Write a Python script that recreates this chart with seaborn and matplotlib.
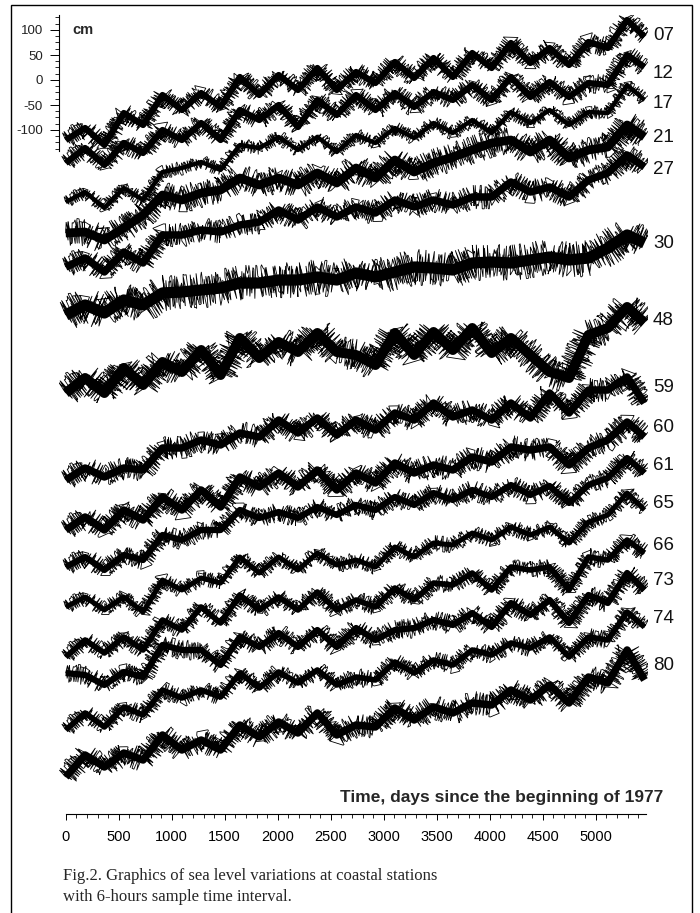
import matplotlib
matplotlib.use("Agg")
import matplotlib.pyplot as plt
import seaborn as sns
import pandas as pd
from matplotlib.patches import Rectangle

# ---------------- data (sea level, cm on the chart's stacked scale) ----------------
days = [0, 183, 365, 548, 730, 913, 1096, 1278, 1461, 1643, 1826, 2009, 2191, 2374, 2557,
        2739, 2922, 3105, 3287, 3470, 3652, 3835, 4018, 4200, 4383, 4565, 4748, 4931, 5114,
        5296, 5460]

st07 = [-120, -96, -130, -66, -90, -30, -60, -26, -54, 6, -30, 10, -20, 24, -20, 16, -6, 36,
        4, 44, 6, 54, 24, 74, 34, 64, 30, 76, 64, 120, 86]
st12 = [-166, -136, -170, -126, -146, -100, -120, -86, -120, -60, -80, -50, -94, -40, -70, -30,
        -60, -26, -54, -24, -40, -10, -40, 6, -34, -4, -34, -6, -10, 50, 26]
st17 = [-244, -224, -256, -216, -240, -184, -176, -164, -180, -130, -136, -114, -140, -114,
        -144, -110, -126, -96, -116, -86, -106, -80, -106, -64, -86, -60, -90, -64, -66, -10, -40]
st21 = [-306, -304, -320, -296, -270, -230, -240, -226, -220, -196, -210, -196, -210, -186,
        -206, -176, -196, -160, -184, -166, -154, -140, -126, -120, -144, -120, -156, -140,
        -134, -90, -114]
st27 = [-374, -356, -384, -344, -366, -310, -310, -300, -304, -290, -284, -260, -280, -254,
        -274, -254, -266, -240, -254, -240, -250, -234, -234, -204, -224, -214, -234, -200,
        -186, -150, -174]
st30 = [-470, -450, -466, -440, -450, -426, -424, -420, -416, -406, -406, -400, -400, -394,
        -400, -386, -394, -384, -374, -376, -380, -366, -364, -366, -360, -354, -360, -356,
        -336, -310, -326]
st48 = [-626, -596, -626, -576, -610, -564, -584, -540, -590, -516, -556, -524, -544, -506,
        -544, -550, -570, -506, -550, -504, -540, -496, -546, -516, -550, -584, -596, -510,
        -496, -454, -486]
st59 = [-800, -776, -794, -776, -780, -736, -736, -720, -730, -706, -714, -680, -706, -676,
        -710, -680, -700, -666, -680, -646, -674, -660, -680, -646, -676, -626, -666, -620,
        -620, -594, -646]
st60 = [-900, -874, -900, -860, -880, -834, -860, -820, -854, -794, -814, -786, -814, -780,
        -820, -786, -806, -766, -786, -770, -780, -754, -764, -734, -740, -734, -770, -736,
        -720, -684, -714]
st61 = [-974, -954, -980, -950, -960, -910, -920, -900, -900, -860, -876, -864, -876, -854,
        -870, -850, -860, -834, -850, -826, -840, -820, -834, -810, -830, -812, -846, -810,
        -796, -756, -786]
st65 = [-1054, -1034, -1060, -1034, -1064, -1000, -1020, -996, -1006, -954, -986, -954, -980,
        -946, -970, -960, -974, -934, -954, -926, -930, -906, -920, -894, -910, -894, -926,
        -884, -870, -826, -860]
st66 = [-1154, -1120, -1146, -1114, -1140, -1080, -1100, -1054, -1086, -1030, -1060, -1034,
        -1060, -1024, -1060, -1040, -1054, -1016, -1040, -1006, -1010, -986, -1020, -974,
        -980, -974, -1020, -954, -960, -920, -946]
st73 = [-1186, -1190, -1210, -1184, -1194, -1130, -1140, -1140, -1170, -1114, -1134, -1106,
        -1134, -1100, -1134, -1096, -1120, -1100, -1096, -1080, -1090, -1066, -1094, -1046,
        -1070, -1040, -1086, -1030, -1046, -986, -1020]
st74 = [-1300, -1266, -1294, -1254, -1270, -1220, -1236, -1220, -1234, -1186, -1216, -1184,
        -1206, -1180, -1210, -1194, -1200, -1164, -1186, -1160, -1170, -1140, -1150, -1126,
        -1136, -1114, -1154, -1114, -1120, -1064, -1094]
st80 = [-1394, -1350, -1374, -1346, -1360, -1310, -1340, -1320, -1340, -1290, -1314, -1284,
        -1306, -1266, -1310, -1290, -1294, -1256, -1280, -1254, -1266, -1246, -1250, -1220,
        -1240, -1210, -1246, -1194, -1206, -1140, -1200]

stations = ["07", "12", "17", "21", "27", "30", "48", "59", "60", "61", "65", "66", "73", "74", "80"]
series = [st07, st12, st17, st21, st27, st30, st48, st59, st60, st61, st65, st66, st73, st74, st80]

x_ticks = [0, 500, 1000, 1500, 2000, 2500, 3000, 3500, 4000, 4500, 5000]
y_ticks = [-100, -50, 0, 50, 100]

# ---------------- layout / style ----------------
label_levels = [90, 14, -46, -114, -180, -326, -480, -614, -694, -770, -846, -930, -1000, -1076, -1170]
noise_px = [10, 10, 7, 14, 12, 18, 16, 12, 12, 10, 8, 9, 10, 9, 12]

sns.set_theme(style="white")
plt.rcParams["font.family"] = ["Liberation Sans", "DejaVu Sans"]

W, H = 700, 913
fig = plt.figure(figsize=(W / 100, H / 100), dpi=100)
ax = fig.add_axes([59 / W, 1 - 814 / H, (648 - 59) / W, (814 - 15) / H])
ax.set_facecolor("white")

rows = []
for st, vals in zip(stations, series):
    for d, v in zip(days, vals):
        rows.append({"station": st, "day": d, "level": v})
df = pd.DataFrame(rows)

for st, npx in zip(stations, noise_px):
    sub = df[df["station"] == st]
    # solid core of the band
    sns.lineplot(data=sub, x="day", y="level", color="black", linewidth=npx * 0.45,
                 estimator=None, sort=False, ax=ax, legend=False)
    ax.lines[-1].set_solid_capstyle("butt")
    # jittery rendering of the same readings to imitate the 6-hourly noise texture
    for sc, ln, lw in [(1.0, 1.0, 0.6), (0.8, 0.7, 0.6)]:
        sns.lineplot(data=sub, x="day", y="level", color="black", linewidth=lw,
                     estimator=None, sort=False, ax=ax, legend=False)
        ax.lines[-1].set_sketch_params(scale=npx * sc, length=ln, randomness=2)
        ax.lines[-1].set_solid_capstyle("butt")
        ax.lines[-1].set_solid_joinstyle("bevel")

ax.set_xlim(-63.2, 5493)
ax.set_ylim(-1468, 130)
ax.set_xlabel("")
ax.set_ylabel("")

for s in ["top", "right"]:
    ax.spines[s].set_visible(False)
for s in ["left", "bottom"]:
    ax.spines[s].set_color("black")
    ax.spines[s].set_linewidth(0.8)
ax.spines["left"].set_bounds(-143, 130)
ax.spines["bottom"].set_bounds(0, 5470)

ax.set_xticks(x_ticks)
ax.set_xticks(list(range(0, 5401, 100)), minor=True)
ax.set_yticks(y_ticks)
ax.set_yticks([125, 112.5, 87.5, 75, 62.5, 37.5, 25, 12.5, -12.5, -25, -37.5, -62.5, -75,
               -87.5, -112.5, -125, -137.5], minor=True)
ax.tick_params(axis="x", which="major", direction="out", length=4.5, width=0.7, color="black",
               pad=7, labelsize=10.5, bottom=True)
ax.tick_params(axis="x", which="minor", direction="out", length=2.8, width=0.6, color="black",
               bottom=True)
ax.tick_params(axis="y", which="major", direction="out", length=6.5, width=0.7, color="black",
               pad=5, labelsize=9.5, left=True)
ax.tick_params(axis="y", which="minor", direction="out", length=3, width=0.6, color="black",
               left=True)
ax.set_xticklabels([str(t) for t in x_ticks], family=["Liberation Sans Narrow", "Liberation Sans"],
                   color="black")
ax.set_yticklabels([str(t) for t in y_ticks], color="#222222")

for st, lvl in zip(stations, label_levels):
    ax.text(5540, lvl, st, fontsize=13.5, va="center", ha="left", color="#111111", clip_on=False)

fig.text(72 / W, 1 - 30 / H, "cm", fontsize=10.5, fontweight="bold", va="center", ha="left")
fig.text(663 / W, 1 - 797 / H, "Time, days since the beginning of 1977", fontsize=12.5,
         fontweight="bold", va="center", ha="right")
fig.text(63 / W, 1 - 876 / H, "Fig.2. Graphics of sea level variations at coastal stations",
         family=["Liberation Serif", "DejaVu Serif"], fontsize=12, va="center", ha="left")
fig.text(63 / W, 1 - 897 / H, "with 6-hours sample time interval.",
         family=["Liberation Serif", "DejaVu Serif"], fontsize=12, va="center", ha="left")

fig.add_artist(Rectangle((11 / W, -0.02), (692 - 11) / W, 1 - 5 / H + 0.02,
                         transform=fig.transFigure, fill=False, lw=1.0, ec="black"))

fig.savefig("out.png", dpi=100, facecolor="white")
